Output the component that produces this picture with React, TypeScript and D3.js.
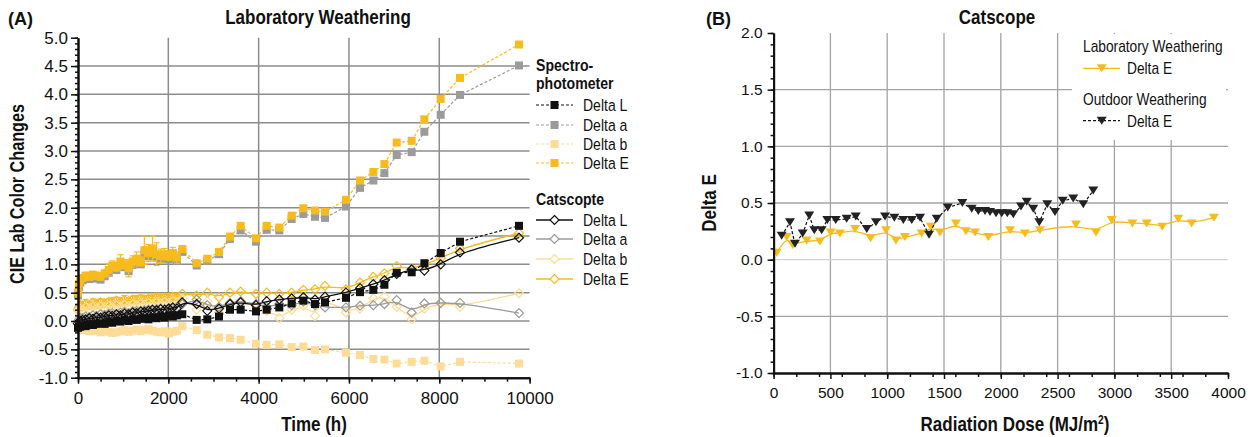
import React, { useEffect, useRef } from 'react';
import * as d3 from 'd3';

// (A) Laboratory weathering, time in hours
const timeH = [0, 20, 50, 100, 170, 250, 330, 410, 500, 590, 680, 760, 850, 940, 1030, 1120, 1210, 1300, 1390, 1470,
  1560, 1650, 1740, 1830, 1920, 2010, 2100, 2190,
  2310, 2628, 2863, 3122, 3366, 3602, 3941, 4178, 4458, 4731, 4990, 5248, 5470, 5934, 6245, 6540, 6785, 7057, 7389,
  7670, 8031, 8459, 9765];

// spectrophotometer
const specL = [-0.12, -0.10, -0.10, -0.08, -0.09, -0.06, -0.07, -0.05, -0.04, -0.05, -0.02, -0.03, 0.00, -0.01, 0.02,
  0.00, 0.03, 0.02, 0.04, 0.05, 0.03, 0.06, 0.05, 0.08, 0.06, 0.10, 0.08, 0.10,
  0.12, 0.02, 0.03, 0.08, 0.20, 0.20, 0.17, 0.20, 0.24, 0.31, 0.36, 0.30, 0.33, 0.41, 0.51, 0.55, 0.64, 0.85, 0.86,
  1.02, 1.20, 1.40, 1.68];
const specA = [0.45, 0.60, 0.68, 0.72, 0.75, 0.74, 0.77, 0.75, 0.73, 0.79, 0.85, 0.93, 0.90, 0.99, 0.95, 0.88, 0.99,
  1.04, 1.00, 1.18, 1.14, 1.21, 1.12, 1.09, 1.12, 1.09, 1.14, 1.06,
  1.22, 0.98, 1.06, 1.18, 1.45, 1.60, 1.40, 1.61, 1.60, 1.80, 1.89, 1.84, 1.82, 2.02, 2.35, 2.48, 2.61, 2.93, 2.98,
  3.34, 3.64, 3.99, 4.51];
const specB = [-0.10, -0.12, -0.15, -0.16, -0.14, -0.18, -0.15, -0.17, -0.20, -0.18, -0.19, -0.21, -0.20, -0.18,
  -0.16, -0.19, -0.17, -0.15, -0.18, -0.16, -0.14, -0.17, -0.19, -0.20, -0.18, -0.22, -0.19, -0.17,
  -0.09, -0.16, -0.24, -0.29, -0.30, -0.33, -0.40, -0.42, -0.41, -0.46, -0.45, -0.51, -0.50, -0.56, -0.60, -0.67,
  -0.68, -0.75, -0.72, -0.70, -0.80, -0.72, -0.75];
const specE = [0.50, 0.65, 0.72, 0.76, 0.80, 0.78, 0.82, 0.80, 0.78, 0.84, 0.90, 0.98, 0.95, 1.05, 1.00, 0.93, 1.05,
  1.10, 1.05, 1.25, 1.20, 1.28, 1.18, 1.15, 1.18, 1.15, 1.20, 1.12,
  1.27, 1.02, 1.10, 1.22, 1.49, 1.68, 1.46, 1.68, 1.65, 1.86, 1.99, 1.95, 1.93, 2.14, 2.48, 2.63, 2.77, 3.15, 3.18,
  3.56, 3.92, 4.29, 4.88];
const specEErr = [0.05, 0.08, 0.06, 0.05, 0.06, 0.05, 0.05, 0.06, 0.05, 0.06, 0.10, 0.08, 0.07, 0.12, 0.08, 0.15, 0.10,
  0.12, 0.08, 0.25, 0.15, 0.22, 0.20, 0.12, 0.10, 0.08, 0.10, 0.10,
  0.05, 0, 0, 0, 0, 0, 0, 0, 0, 0, 0, 0, 0, 0, 0, 0, 0, 0, 0, 0, 0, 0, 0];

// catscope
const catL = [-0.05, -0.02, 0.00, 0.02, 0.03, 0.05, 0.04, 0.07, 0.06, 0.08, 0.10, 0.09, 0.12, 0.10, 0.13, 0.12, 0.15,
  0.14, 0.17, 0.16, 0.18, 0.20, 0.19, 0.21, 0.20, 0.22, 0.24, 0.22,
  0.33, 0.30, 0.18, 0.22, 0.30, 0.33, 0.28, 0.35, 0.38, 0.40, 0.42, 0.38, 0.43, 0.50, 0.58, 0.65, 0.72, 0.83, 0.91,
  0.89, 1.00, 1.21, 1.47];
const catA = [0.00, 0.02, 0.05, 0.05, 0.08, 0.07, 0.10, 0.09, 0.12, 0.11, 0.13, 0.14, 0.12, 0.15, 0.16, 0.14, 0.17,
  0.18, 0.16, 0.19, 0.20, 0.18, 0.21, 0.22, 0.20, 0.23, 0.22, 0.24,
  0.30, 0.38, 0.28, 0.25, 0.32, 0.35, 0.30, 0.25, 0.30, 0.28, 0.34, 0.28, 0.24, 0.24, 0.27, 0.28, 0.30, 0.37, 0.15,
  0.31, 0.32, 0.32, 0.14];
const catB = [0.18, 0.20, 0.22, 0.20, 0.24, 0.22, 0.25, 0.23, 0.26, 0.24, 0.27, 0.25, 0.28, 0.26, 0.29, 0.27, 0.30,
  0.28, 0.31, 0.29, 0.32, 0.30, 0.33, 0.31, 0.34, 0.32, 0.35, 0.33,
  0.40, 0.20, 0.35, 0.15, 0.30, 0.35, 0.25, 0.18, 0.05, 0.20, 0.27, 0.09, 0.41, 0.15, 0.22, 0.40, 0.43, 0.25, 0.03,
  0.22, 0.32, 0.25, 0.49];
const catE = [0.20, 0.24, 0.28, 0.26, 0.30, 0.28, 0.32, 0.30, 0.33, 0.31, 0.34, 0.33, 0.36, 0.34, 0.37, 0.35, 0.38,
  0.37, 0.39, 0.38, 0.40, 0.39, 0.41, 0.40, 0.42, 0.41, 0.43, 0.42,
  0.48, 0.45, 0.50, 0.42, 0.50, 0.52, 0.48, 0.50, 0.48, 0.50, 0.55, 0.56, 0.62, 0.56, 0.68, 0.78, 0.84, 0.97, 0.92,
  0.99, 1.11, 1.28, 1.55];
const catEErr = [0.08, 0.06, 0.07, 0.05, 0.08, 0.06, 0.07, 0.08, 0.06, 0.07, 0.05, 0.08, 0.06, 0.07, 0.08, 0.05, 0.06,
  0.08, 0.07, 0.06, 0.05, 0.07, 0.08, 0.06, 0.05, 0.07, 0.06, 0.05,
  0, 0, 0, 0, 0, 0, 0, 0, 0, 0, 0, 0, 0, 0, 0, 0, 0, 0, 0, 0, 0, 0, 0];

// (B) Catscope, radiation dose in MJ/m2
const labDose = [27, 115, 168, 291, 408, 502, 584, 717, 854, 989, 1077, 1156, 1303, 1385, 1464, 1605, 1693, 1773, 1890,
  2081, 2213, 2345, 2662, 2838, 2976, 3158, 3284, 3421, 3562, 3680, 3876];
const labDeltaE = [0.06, 0.20, 0.13, 0.17, 0.16, 0.24, 0.23, 0.27, 0.19, 0.26, 0.17, 0.20, 0.23, 0.29, 0.24, 0.32, 0.25,
  0.24, 0.20, 0.26, 0.23, 0.26, 0.31, 0.24, 0.35, 0.32, 0.32, 0.29, 0.36, 0.32, 0.37];
const outDose = [71, 144, 188, 256, 314, 358, 423, 473, 547, 643, 723, 820, 901, 981, 1063, 1142, 1216, 1289, 1368, 1436,
  1533, 1661, 1744, 1802, 1861, 1905, 1958, 2008, 2057, 2110, 2178, 2228, 2286, 2339, 2409, 2477, 2545, 2638, 2726, 2814];
const outDeltaE = [0.21, 0.33, 0.14, 0.23, 0.39, 0.26, 0.26, 0.35, 0.35, 0.36, 0.38, 0.27, 0.33, 0.38, 0.37, 0.35, 0.35,
  0.37, 0.22, 0.36, 0.46, 0.50, 0.45, 0.43, 0.43, 0.42, 0.41, 0.41, 0.41, 0.40, 0.47, 0.51, 0.45, 0.33, 0.49, 0.42,
  0.52, 0.54, 0.49, 0.61];

const YELLOW = '#f8bb1c';
const LIGHT = '#fedc97';
const GRAY = '#9b9b9b';
const BLACK = '#111';
const FONT = "'Liberation Sans', Arial, sans-serif";

const xA = d3.scaleLinear().domain([0, 10000]).range([78, 529.6]);
const yA = d3.scaleLinear().domain([-1, 5]).range([377.7, 37.7]);
const xB = d3.scaleLinear().domain([0, 4000]).range([773.6, 1228]);
const yB = d3.scaleLinear().domain([-1, 2]).range([373, 33]);

const square = (s: number) => `M${-s / 2},${-s / 2}h${s}v${s}h${-s}Z`;
const diamond = (s: number) => `M0,${-s}L${s},0L0,${s}L${-s},0Z`;
const triDown = (w: number, h: number) => `M${-w / 2},${-h / 2}L${w / 2},${-h / 2}L0,${h / 2}Z`;

type Pt = [number, number];
const zipA = (vals: number[]): Pt[] => timeH.map((t, i) => [t, vals[i]]);

const lineA = (curve: d3.CurveFactory) =>
  d3.line<Pt>().x(d => xA(d[0])).y(d => yA(d[1])).curve(curve);
const lineB = (curve: d3.CurveFactory) =>
  d3.line<Pt>().x(d => xB(d[0])).y(d => yB(d[1])).curve(curve);

const specSeries = [
  { name: 'Delta L', vals: specL, color: BLACK },
  { name: 'Delta a', vals: specA, color: GRAY },
  { name: 'Delta b', vals: specB, color: LIGHT },
  { name: 'Delta E', vals: specE, color: YELLOW, err: specEErr },
];
const catSeries = [
  { name: 'Delta L', vals: catL, color: BLACK },
  { name: 'Delta a', vals: catA, color: GRAY },
  { name: 'Delta b', vals: catB, color: LIGHT },
  { name: 'Delta E', vals: catE, color: YELLOW, err: catEErr },
];

// condensed look: no narrow face installed, so squeeze Liberation Sans horizontally
const NText = ({ x, y, size, bold = false, anchor = 'start', sx = 0.85, rotate = false, children }: any) => (
  <text transform={`translate(${x},${y})${rotate ? ' rotate(-90)' : ''} scale(${sx},1)`}
    fontFamily={FONT} fontSize={size} fontWeight={bold ? 'bold' : 'normal'} textAnchor={anchor} fill={BLACK}>
    {children}
  </text>
);

const ErrBars = ({ vals, err, color }: { vals: number[]; err: number[]; color: string }) => (
  <g stroke={color} strokeWidth={1.2}>
    {timeH.map((t, i) => err[i] > 0 ? (
      <g key={i}>
        <line x1={xA(t)} x2={xA(t)} y1={yA(vals[i] - err[i])} y2={yA(vals[i] + err[i])} />
        <line x1={xA(t) - 3} x2={xA(t) + 3} y1={yA(vals[i] - err[i])} y2={yA(vals[i] - err[i])} />
        <line x1={xA(t) - 3} x2={xA(t) + 3} y1={yA(vals[i] + err[i])} y2={yA(vals[i] + err[i])} />
      </g>
    ) : null)}
  </g>
);

const App = () => {
  const axAx = useRef<SVGGElement>(null);
  const axAxMinor = useRef<SVGGElement>(null);
  const axAy = useRef<SVGGElement>(null);
  const axAyMinor = useRef<SVGGElement>(null);
  const axBx = useRef<SVGGElement>(null);
  const axBxMinor = useRef<SVGGElement>(null);
  const axBy = useRef<SVGGElement>(null);
  const axByMinor = useRef<SVGGElement>(null);

  useEffect(() => {
    const fmt = (d: d3.NumberValue) => (+d).toFixed(1);
    const style = (sel: any, size: number) => {
      sel.attr('font-family', FONT).attr('font-size', size);
      sel.select('.domain').attr('stroke', BLACK).attr('stroke-width', 2);
      sel.selectAll('.tick line').attr('stroke', BLACK).attr('stroke-width', 1.5);
      sel.selectAll('.tick text').attr('fill', BLACK);
    };
    const blank = () => '';

    style(d3.select(axAxMinor.current).call(d3.axisBottom(xA).ticks(20).tickSize(4).tickSizeOuter(0).tickFormat(blank)), 17);
    style(d3.select(axAx.current).call(d3.axisBottom(xA).ticks(5).tickSize(6).tickSizeOuter(0).tickPadding(8)), 17);
    d3.select(axAx.current).selectAll('.tick text').text((d: any) => String(d));
    style(d3.select(axAyMinor.current).call(d3.axisLeft(yA).ticks(60).tickSize(3).tickSizeOuter(0).tickFormat(blank)), 17);
    style(d3.select(axAy.current).call(d3.axisLeft(yA).ticks(12).tickSize(7).tickSizeOuter(0).tickPadding(3).tickFormat(fmt)), 17);

    style(d3.select(axBxMinor.current).call(d3.axisBottom(xB).ticks(16).tickSize(4).tickSizeOuter(0).tickFormat(blank)), 15.5);
    style(d3.select(axBx.current).call(d3.axisBottom(xB).ticks(8).tickSize(6).tickSizeOuter(0).tickPadding(8)), 15.5);
    d3.select(axBx.current).selectAll('.tick text').text((d: any) => String(d));
    style(d3.select(axByMinor.current).call(d3.axisLeft(yB).ticks(30).tickSize(3).tickSizeOuter(0).tickFormat(blank)), 15.5);
    style(d3.select(axBy.current).call(d3.axisLeft(yB).ticks(6).tickSize(6).tickSizeOuter(0).tickPadding(5).tickFormat(fmt)), 15.5);
  }, []);

  const [a0, a1] = xA.range();
  const [b0, b1] = xB.range();
  const labPts: Pt[] = labDose.map((d, i) => [d, labDeltaE[i]]);
  const outPts: Pt[] = outDose.map((d, i) => [d, outDeltaE[i]]);

  const specLegendY = [105, 125, 144, 163];
  const catLegendY = [220, 239, 259, 279];

  return (
    <svg width={1255} height={437} style={{ position: 'absolute', left: 0, top: 0, background: '#fff' }}>
      {/* ---------- panel A ---------- */}
      <g stroke="#8c8c8c" strokeWidth={1.5}>
        {[2000, 4000, 6000, 8000].map(t => (
          <line key={t} x1={xA(t)} x2={xA(t)} y1={yA(-1)} y2={yA(5)} />
        ))}
        {yA.ticks(12).filter(v => v > -1 && v < 5).map(v => (
          <line key={v} x1={a0} x2={a1} y1={yA(v)} y2={yA(v)} />
        ))}
      </g>

      {catSeries.slice().reverse().map(s => (
        <g key={'c' + s.name}>
          {s.err && <ErrBars vals={s.vals} err={s.err} color={s.color} />}
          <path d={lineA(d3.curveBasis)(zipA(s.vals)) || ''} fill="none" stroke={s.color} strokeWidth={1.3} />
          {zipA(s.vals).map((p, i) => (
            <path key={i} d={diamond(4.5)} transform={`translate(${xA(p[0])},${yA(p[1])})`}
              fill="none" stroke={s.color} strokeWidth={1.2} />
          ))}
        </g>
      ))}
      {[specSeries[2], specSeries[1], specSeries[3], specSeries[0]].map(s => (
        <g key={'s' + s.name}>
          {s.err && <ErrBars vals={s.vals} err={s.err} color={s.color} />}
          <path d={lineA(d3.curveLinear)(zipA(s.vals)) || ''} fill="none" stroke={s.color}
            strokeWidth={1.2} strokeDasharray="3 2" />
          {zipA(s.vals).map((p, i) => (
            <path key={i} d={square(8)} transform={`translate(${xA(p[0])},${yA(p[1])})`} fill={s.color} />
          ))}
        </g>
      ))}

      <g ref={axAxMinor} transform={`translate(0,${yA(-1)})`} />
      <g ref={axAx} transform={`translate(0,${yA(-1)})`} />
      <g ref={axAyMinor} transform={`translate(${a0},0)`} />
      <g ref={axAy} transform={`translate(${a0},0)`} />

      <NText x={8} y={25} size={19} bold sx={0.95}>(A)</NText>
      <NText x={318} y={24} size={20} bold anchor="middle">Laboratory Weathering</NText>
      <NText x={314} y={431} size={20} bold anchor="middle">Time (h)</NText>
      <NText x={24} y={194} size={20} bold anchor="middle" rotate sx={0.81}>CIE Lab Color Changes</NText>

      {/* legend A */}
      <NText x={536} y={71} size={17} bold sx={0.83}>Spectro-</NText>
      <NText x={536} y={89} size={17} bold sx={0.83}>photometer</NText>
      {specSeries.map((s, i) => (
        <g key={'ls' + i}>
          <line x1={536} x2={573} y1={specLegendY[i]} y2={specLegendY[i]} stroke={s.color} strokeWidth={1.2} strokeDasharray="3 2" />
          <path d={square(8)} transform={`translate(554.5,${specLegendY[i]})`} fill={s.color} />
          <NText x={583} y={specLegendY[i] + 6} size={16.5}>{s.name}</NText>
        </g>
      ))}
      <NText x={536} y={205} size={17} bold sx={0.83}>Catscopte</NText>
      {catSeries.map((s, i) => (
        <g key={'lc' + i}>
          <line x1={536} x2={573} y1={catLegendY[i]} y2={catLegendY[i]} stroke={s.color} strokeWidth={1.3} />
          <path d={diamond(4.5)} transform={`translate(554.5,${catLegendY[i]})`} fill="#fff" stroke={s.color} strokeWidth={1.2} />
          <NText x={583} y={catLegendY[i] + 6} size={16.5}>{s.name}</NText>
        </g>
      ))}

      {/* ---------- panel B ---------- */}
      <g stroke="#a3a3a3" strokeWidth={1.3}>
        {xB.ticks(8).filter(d => d > 0 && d < 4000).map(d => (
          <line key={d} x1={xB(d)} x2={xB(d)} y1={yB(-1)} y2={yB(2)} />
        ))}
        {yB.ticks(6).filter(v => v > -1 && v < 2).map(v => (
          <line key={v} x1={b0} x2={b1} y1={yB(v)} y2={yB(v)} stroke={v === 0 ? '#d4d4d4' : undefined} />
        ))}
      </g>

      <path d={lineB(d3.curveBasis)(labPts) || ''} fill="none" stroke={YELLOW} strokeWidth={1.3} />
      {labPts.map((p, i) => (
        <path key={i} d={triDown(10, 8)} transform={`translate(${xB(p[0])},${yB(p[1])})`} fill={YELLOW} />
      ))}
      <path d={lineB(d3.curveLinear)(outPts) || ''} fill="none" stroke={BLACK} strokeWidth={1.2} strokeDasharray="3 2" />
      {outPts.map((p, i) => (
        <path key={i} d={triDown(10, 8)} transform={`translate(${xB(p[0])},${yB(p[1])})`} fill="#222" />
      ))}

      <g ref={axBxMinor} transform={`translate(0,${yB(-1)})`} />
      <g ref={axBx} transform={`translate(0,${yB(-1)})`} />
      <g ref={axByMinor} transform={`translate(${b0},0)`} />
      <g ref={axBy} transform={`translate(${b0},0)`} />

      <NText x={706} y={25} size={19} bold sx={0.95}>(B)</NText>
      <NText x={997} y={24} size={20} bold anchor="middle">Catscope</NText>
      <NText x={1015} y={431} size={20} bold anchor="middle">
        Radiation Dose (MJ/m<tspan dy={-7} fontSize={12}>2</tspan><tspan dy={7}>)</tspan>
      </NText>
      <NText x={716} y={203} size={20} bold anchor="middle" rotate>Delta E</NText>

      {/* legend B */}
      <rect x={1072} y={34} width={154} height={106} fill="#fff" />
      <NText x={1083} y={51.5} size={16} sx={0.86}>Laboratory Weathering</NText>
      <line x1={1083} x2={1120} y1={68.3} y2={68.3} stroke={YELLOW} strokeWidth={1.3} />
      <path d={triDown(10, 8)} transform="translate(1101.7,68.3)" fill={YELLOW} />
      <NText x={1127} y={74} size={16} sx={0.86}>Delta E</NText>
      <NText x={1083} y={105} size={16} sx={0.86}>Outdoor Weathering</NText>
      <line x1={1083} x2={1120} y1={120.7} y2={120.7} stroke={BLACK} strokeWidth={1.2} strokeDasharray="3 2" />
      <path d={triDown(10, 8)} transform="translate(1101.7,120.7)" fill="#222" />
      <NText x={1127} y={126.5} size={16} sx={0.86}>Delta E</NText>
    </svg>
  );
};

export default App;
